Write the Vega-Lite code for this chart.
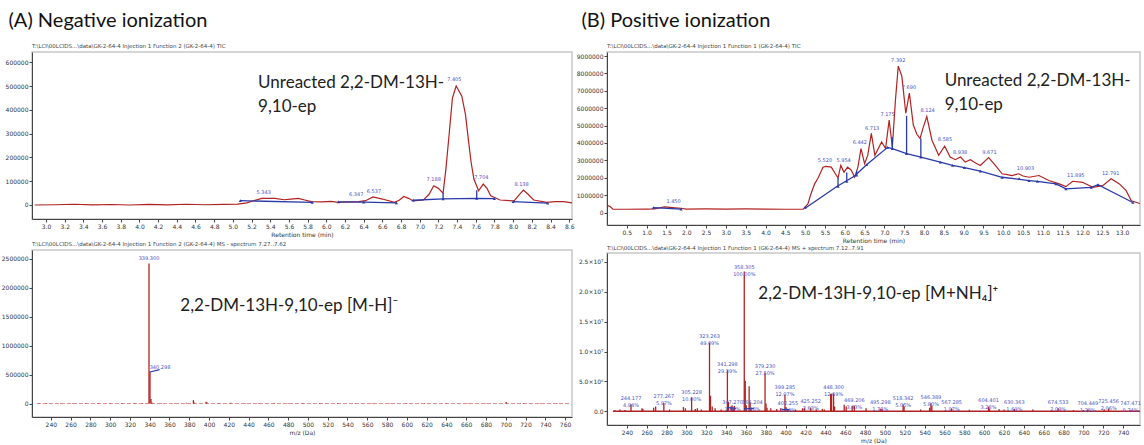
{
 "$schema": "https://vega.github.io/schema/vega-lite/v6.json",
 "background": "white",
 "padding": {"left": 0, "top": 10, "right": 0, "bottom": 0},
 "config": {
  "view": {"stroke": "#c8c8c8", "strokeWidth": 1.5},
  "axis": {"labelFont": "DejaVu Sans", "labelFontSize": 6, "labelColor": "#333", "titleFont": "DejaVu Sans", "titleFontSize": 6, "titleFontWeight": "normal", "titleColor": "#333", "domainColor": "#444", "tickColor": "#444", "tickSize": 3, "grid": false, "labelPadding": 1, "titlePadding": 2, "labelOverlap": false, "labelFlush": false},
  "text": {"font": "DejaVu Sans"}
 },
 "datasets": {
  "tl_curve": [
   {"x":2.88,"y":0},{"x":3.1,"y":1000},{"x":3.3,"y":3000},{"x":3.5,"y":500},{"x":3.7,"y":2000},{"x":3.9,"y":0},{"x":4.1,"y":2500},{"x":4.3,"y":500},{"x":4.5,"y":3000},{"x":4.7,"y":1000},{"x":4.9,"y":2500},{"x":5.05,"y":4000},{"x":5.15,"y":9000},{"x":5.22,"y":18000},{"x":5.31,"y":28000},{"x":5.45,"y":28000},{"x":5.55,"y":22000},{"x":5.62,"y":25000},{"x":5.7,"y":28000},{"x":5.78,"y":20000},{"x":5.84,"y":14000},{"x":5.95,"y":13000},{"x":6.05,"y":15000},{"x":6.13,"y":11000},{"x":6.25,"y":13000},{"x":6.35,"y":14000},{"x":6.42,"y":18000},{"x":6.5,"y":34000},{"x":6.6,"y":25000},{"x":6.73,"y":11000},{"x":6.78,"y":20000},{"x":6.83,"y":36000},{"x":6.88,"y":28000},{"x":6.93,"y":17000},{"x":7.04,"y":21000},{"x":7.1,"y":45000},{"x":7.15,"y":81000},{"x":7.2,"y":70000},{"x":7.25,"y":50000},{"x":7.28,"y":150000},{"x":7.31,"y":277000},{"x":7.35,"y":450000},{"x":7.39,"y":501000},{"x":7.45,"y":459000},{"x":7.49,"y":380000},{"x":7.52,"y":277000},{"x":7.55,"y":180000},{"x":7.58,"y":109000},{"x":7.63,"y":60000},{"x":7.68,"y":88000},{"x":7.72,"y":70000},{"x":7.76,"y":39000},{"x":7.86,"y":21000},{"x":8.01,"y":17000},{"x":8.06,"y":40000},{"x":8.11,"y":63000},{"x":8.16,"y":45000},{"x":8.22,"y":21000},{"x":8.36,"y":11000},{"x":8.45,"y":14000},{"x":8.54,"y":14000},{"x":8.65,"y":8000}
  ],
  "tl_base": [
   {"seg":1,"x":5.08,"y":18000},{"seg":1,"x":5.85,"y":11000},
   {"seg":2,"x":6.13,"y":13000},{"seg":2,"x":6.4,"y":12000},{"seg":2,"x":6.75,"y":9000},
   {"seg":3,"x":6.93,"y":20000},{"seg":3,"x":7.25,"y":26000},{"seg":3,"x":7.61,"y":28000},{"seg":3,"x":7.8,"y":27000},
   {"seg":4,"x":8.0,"y":14000},{"seg":4,"x":8.37,"y":8000}
  ],
  "tl_drop": [
   {"x":7.25,"y":26000,"y2":50000},{"x":7.61,"y":28000,"y2":62000}
  ],
  "tl_peaks": [
   {"x":5.33,"y":56000,"label":"5.343"},{"x":6.32,"y":46000,"label":"6.347"},{"x":6.51,"y":60000,"label":"6.537"},{"x":7.15,"y":109000,"label":"7.188"},{"x":7.37,"y":532000,"label":"7.405"},{"x":7.66,"y":116000,"label":"7.704"},{"x":8.09,"y":88000,"label":"8.138"}
  ],
  "tl_note": [
   {"x":5.27,"y":548000,"label":"Unreacted 2,2-DM-13H-\n9,10-ep"}
  ],
  "tr_curve": [
   {"x":0.02,"y":400000},{"x":0.08,"y":350000},{"x":0.15,"y":200000},{"x":0.5,"y":190000},{"x":1.0,"y":200000},{"x":1.2,"y":210000},{"x":1.45,"y":330000},{"x":1.65,"y":290000},{"x":1.87,"y":250000},{"x":2.0,"y":200000},{"x":2.5,"y":210000},{"x":3.0,"y":200000},{"x":3.5,"y":210000},{"x":4.0,"y":200000},{"x":4.5,"y":190000},{"x":4.95,"y":200000},{"x":5.07,"y":500000},{"x":5.15,"y":1100000},{"x":5.24,"y":1650000},{"x":5.33,"y":2000000},{"x":5.45,"y":2610000},{"x":5.52,"y":2650000},{"x":5.66,"y":2610000},{"x":5.79,"y":2130000},{"x":5.83,"y":2000000},{"x":5.9,"y":2710000},{"x":5.98,"y":2320000},{"x":6.07,"y":2610000},{"x":6.16,"y":2450000},{"x":6.25,"y":2030000},{"x":6.33,"y":2600000},{"x":6.41,"y":3680000},{"x":6.5,"y":2810000},{"x":6.58,"y":3300000},{"x":6.67,"y":4550000},{"x":6.76,"y":3290000},{"x":6.85,"y":3700000},{"x":6.93,"y":4060000},{"x":7.03,"y":3680000},{"x":7.12,"y":5320000},{"x":7.2,"y":3770000},{"x":7.28,"y":6500000},{"x":7.35,"y":8420000},{"x":7.44,"y":7840000},{"x":7.54,"y":5710000},{"x":7.63,"y":6870000},{"x":7.73,"y":5030000},{"x":7.82,"y":4500000},{"x":7.9,"y":4260000},{"x":7.98,"y":4900000},{"x":8.07,"y":5520000},{"x":8.2,"y":4160000},{"x":8.37,"y":3290000},{"x":8.52,"y":3810000},{"x":8.66,"y":3190000},{"x":8.79,"y":3040000},{"x":8.92,"y":3190000},{"x":9.04,"y":2900000},{"x":9.17,"y":3040000},{"x":9.3,"y":2850000},{"x":9.42,"y":2710000},{"x":9.63,"y":3160000},{"x":9.8,"y":2710000},{"x":9.97,"y":2230000},{"x":10.1,"y":2180000},{"x":10.22,"y":2130000},{"x":10.39,"y":2230000},{"x":10.5,"y":2100000},{"x":10.65,"y":2030000},{"x":10.9,"y":2130000},{"x":11.15,"y":1840000},{"x":11.41,"y":1650000},{"x":11.58,"y":1490000},{"x":11.75,"y":1800000},{"x":12.0,"y":1740000},{"x":12.26,"y":1450000},{"x":12.51,"y":1550000},{"x":12.72,"y":1940000},{"x":12.93,"y":1650000},{"x":13.1,"y":1260000},{"x":13.23,"y":680000},{"x":13.45,"y":520000}
  ],
  "tr_base": [
   {"seg":1,"x":1.17,"y":290000},{"seg":1,"x":1.87,"y":200000},
   {"seg":2,"x":5.0,"y":250000},{"seg":2,"x":5.8,"y":1500000},{"seg":2,"x":6.25,"y":2100000},{"seg":2,"x":6.55,"y":2750000},{"seg":2,"x":7.08,"y":3750000},{"seg":2,"x":7.2,"y":3680000},{"seg":2,"x":7.56,"y":3390000},{"seg":2,"x":7.92,"y":3190000},{"seg":2,"x":8.41,"y":2900000},{"seg":2,"x":8.72,"y":2710000},{"seg":2,"x":9.02,"y":2580000},{"seg":2,"x":9.42,"y":2380000},{"seg":2,"x":9.97,"y":2030000},{"seg":2,"x":10.65,"y":1840000},{"seg":2,"x":10.86,"y":1790000},{"seg":2,"x":11.33,"y":1650000},{"seg":2,"x":11.58,"y":1360000},{"seg":2,"x":12.22,"y":1450000},{"seg":2,"x":12.39,"y":1600000},{"seg":2,"x":13.27,"y":580000}
  ],
  "tr_drop": [
   {"x":7.2,"y":3680000,"y2":4350000},{"x":7.56,"y":3390000,"y2":5560000},{"x":7.92,"y":3190000,"y2":4260000},{"x":5.83,"y":1500000,"y2":2000000},{"x":6.05,"y":1800000,"y2":2300000},{"x":6.3,"y":2150000,"y2":2400000}
  ],
  "tr_marks": [
   {"x":1.17,"y":290000},{"x":1.87,"y":200000},{"x":5.0,"y":300000},{"x":5.83,"y":1500000},{"x":6.05,"y":1800000},{"x":6.3,"y":2150000},{"x":6.55,"y":2750000},{"x":7.08,"y":3750000},{"x":7.2,"y":3680000},{"x":7.56,"y":3390000},{"x":7.92,"y":3190000},{"x":8.41,"y":2900000},{"x":8.72,"y":2710000},{"x":9.02,"y":2580000},{"x":9.42,"y":2380000},{"x":9.97,"y":2030000},{"x":10.4,"y":1950000},{"x":10.65,"y":1840000},{"x":10.86,"y":1790000},{"x":11.33,"y":1650000},{"x":11.58,"y":1360000},{"x":12.22,"y":1450000},{"x":12.39,"y":1600000},{"x":13.27,"y":580000}
  ],
  "tr_peaks": [
   {"x":1.68,"y":680000,"label":"1.450"},{"x":5.5,"y":3040000,"label":"5.520"},{"x":5.97,"y":3040000,"label":"5.954"},{"x":6.38,"y":4060000,"label":"6.442"},{"x":6.69,"y":4840000,"label":"6.713"},{"x":7.08,"y":5670000,"label":"7.175"},{"x":7.35,"y":8770000,"label":"7.392"},{"x":7.62,"y":7220000,"label":"7.690"},{"x":8.09,"y":5900000,"label":"8.124"},{"x":8.53,"y":4240000,"label":"8.585"},{"x":8.91,"y":3480000,"label":"8.938"},{"x":9.65,"y":3480000,"label":"9.671"},{"x":10.56,"y":2580000,"label":"10.903"},{"x":11.83,"y":2170000,"label":"11.895"},{"x":12.71,"y":2270000,"label":"12.791"}
  ],
  "tr_note": [
   {"x":8.52,"y":8050000,"label":"Unreacted 2,2-DM-13H-\n9,10-ep"}
  ],
  "bl_sticks": [
   {"x":228,"y":8000},{"x":236,"y":10000},{"x":250,"y":9000},{"x":262,"y":8000},{"x":275,"y":10000},{"x":288,"y":9000},{"x":300,"y":8000},{"x":312,"y":11000},{"x":325,"y":9000},{"x":333,"y":10000},{"x":339.3,"y":2420000},{"x":340.3,"y":550000},{"x":341.3,"y":80000},{"x":342.3,"y":20000},{"x":352,"y":10000},{"x":365,"y":9000},{"x":377,"y":15000},{"x":384.2,"y":60000},{"x":385.2,"y":15000},{"x":397,"y":30000},{"x":398,"y":20000},{"x":410,"y":10000},{"x":422,"y":12000},{"x":437,"y":9000},{"x":450,"y":10000},{"x":466,"y":8000},{"x":480,"y":9000},{"x":495,"y":8000},{"x":512,"y":10000},{"x":530,"y":9000},{"x":548,"y":8000},{"x":565,"y":10000},{"x":583,"y":8000},{"x":600,"y":9000},{"x":618,"y":8000},{"x":640,"y":9000},{"x":662,"y":8000},{"x":680,"y":10000},{"x":700.5,"y":28000},{"x":718,"y":10000},{"x":735,"y":8000},{"x":752,"y":9000}
  ],
  "bl_zero": [
   {"x":226,"y":0},{"x":765,"y":0}
  ],
  "bl_labels": [
   {"x":339.3,"y":2520000,"label":"339.300"}
  ],
  "bl_labels2": [
   {"x":340.0,"y":640000,"label":"340.298"}
  ],
  "bl_blue": [
   {"seg":1,"x":340.3,"y":545000},{"seg":1,"x":350,"y":585000}
  ],
  "bl_note": [
   {"x":371,"y":1683000,"label":"2,2-DM-13H-9,10-ep [M-H]⁻"}
  ],
  "br_sticks": [
   {"x":228,"y":200000},{"x":233,"y":300000},{"x":238,"y":200000},{"x":244.177,"y":1156000},{"x":255.2,"y":500000},{"x":256.2,"y":400000},{"x":267,"y":600000},{"x":269,"y":800000},{"x":277.267,"y":1397000},{"x":283,"y":300000},{"x":297,"y":700000},{"x":299,"y":500000},{"x":305.228,"y":2340000},{"x":309,"y":400000},{"x":311,"y":500000},{"x":315,"y":300000},{"x":323.263,"y":11490000},{"x":324.27,"y":2600000},{"x":326,"y":800000},{"x":329,"y":500000},{"x":335,"y":300000},{"x":341.298,"y":6880000},{"x":342.3,"y":1600000},{"x":345,"y":800000},{"x":346,"y":1000000},{"x":347.27,"y":374000},{"x":348.3,"y":900000},{"x":358.305,"y":23400000},{"x":359.3,"y":5100000},{"x":360.3,"y":1000000},{"x":363.2,"y":4200000},{"x":364.2,"y":1500000},{"x":365.204,"y":323000},{"x":379.23,"y":6435000},{"x":380.2,"y":1300000},{"x":381.2,"y":600000},{"x":385,"y":500000},{"x":391,"y":400000},{"x":395,"y":500000},{"x":399.285,"y":2824000},{"x":400.3,"y":700000},{"x":402.255,"y":220000},{"x":410,"y":300000},{"x":417,"y":500000},{"x":419,"y":600000},{"x":425.252,"y":615000},{"x":431,"y":300000},{"x":437,"y":400000},{"x":439,"y":300000},{"x":445.3,"y":2900000},{"x":446.3,"y":2950000},{"x":448.3,"y":2970000},{"x":449.3,"y":800000},{"x":459,"y":1100000},{"x":461,"y":800000},{"x":467,"y":900000},{"x":469.206,"y":920000},{"x":481,"y":500000},{"x":495.298,"y":417000},{"x":497,"y":400000},{"x":518.342,"y":1180000},{"x":519.3,"y":800000},{"x":536,"y":300000},{"x":545,"y":600000},{"x":546.389,"y":1357000},{"x":547.3,"y":900000},{"x":567.285,"y":461000},{"x":585,"y":250000},{"x":604.401,"y":768000},{"x":605.4,"y":400000},{"x":615,"y":400000},{"x":620,"y":300000},{"x":630.363,"y":395000},{"x":649,"y":300000},{"x":674.533,"y":489000},{"x":690,"y":200000},{"x":700,"y":200000},{"x":704.449,"y":300000},{"x":721,"y":300000},{"x":725.456,"y":482000},{"x":747.471,"y":173000}
  ],
  "br_zero": [
   {"x":226,"y":0},{"x":757,"y":0}
  ],
  "br_labels": [
   {"x":244.177,"y":1700000,"label":"244.177\n4.94%"},{"x":277.267,"y":1970000,"label":"277.267\n5.97%"},{"x":305.228,"y":2790000,"label":"305.228\n10.00%"},{"x":323.263,"y":12030000,"label":"323.263\n49.09%"},{"x":341.298,"y":7440000,"label":"341.298\n29.39%"},{"x":346.5,"y":980000,"label":"347.270\n1.60%"},{"x":358.305,"y":23700000,"label":"358.305\n100.00%"},{"x":366.5,"y":980000,"label":"365.204\n1.38%"},{"x":379.23,"y":7000000,"label":"379.230\n27.50%"},{"x":399.285,"y":3560000,"label":"399.285\n12.07%"},{"x":402.255,"y":880000,"label":"402.255\n0.94%"},{"x":425.252,"y":1150000,"label":"425.252\n2.63%"},{"x":448.3,"y":3600000,"label":"448.300\n12.69%"},{"x":469.206,"y":1430000,"label":"469.206\n3.93%"},{"x":495.298,"y":980000,"label":"495.298\n1.78%"},{"x":518.342,"y":1750000,"label":"518.342\n5.05%"},{"x":546.389,"y":1870000,"label":"546.389\n5.80%"},{"x":567.285,"y":980000,"label":"567.285\n1.97%"},{"x":604.401,"y":1310000,"label":"604.401\n3.28%"},{"x":630.363,"y":980000,"label":"630.363\n1.69%"},{"x":674.533,"y":980000,"label":"674.533\n2.09%"},{"x":704.449,"y":880000,"label":"704.449\n1.28%"},{"x":725.456,"y":1150000,"label":"725.456\n2.06%"},{"x":747.471,"y":880000,"label":"747.471\n0.74%"}
  ],
  "br_blue": [
   {"seg":1,"x":342,"y":600000},{"seg":1,"x":350,"y":500000},{"seg":2,"x":358,"y":400000},{"seg":2,"x":368,"y":500000},{"seg":3,"x":396,"y":300000},{"seg":3,"x":404,"y":300000}
  ],
  "br_note": [
   {"x":372.5,"y":19600000,"label":"2,2-DM-13H-9,10-ep [M+NH₄]⁺"}
  ]
 },
 "spacing": 0,
 "hconcat": [
  {
   "title": {"text": "(A) Negative ionization", "anchor": "start", "frame": "bounds", "font": "Lato", "fontSize": 20, "fontWeight": "normal", "color": "#111", "offset": 12, "dx": 8},
   "spacing": 2,
   "vconcat": [
    {
     "width": 540, "height": 167,
     "title": {"text": "T:\\LCI\\00LCIDS...\\data\\GK-2-64-4 Injection 1 Function 2 (GK-2-64-4) TIC", "anchor": "start", "frame": "group", "font": "DejaVu Sans", "fontSize": 5.5, "fontWeight": "normal", "color": "#444", "offset": 3},
     "encoding": {
      "x": {"field": "x", "type": "quantitative", "scale": {"domain": [2.85, 8.63], "nice": false, "zero": false}, "axis": {"values": [3.0,3.2,3.4,3.6,3.8,4.0,4.2,4.4,4.6,4.8,5.0,5.2,5.4,5.6,5.8,6.0,6.2,6.4,6.6,6.8,7.0,7.2,7.4,7.6,7.8,8.0,8.2,8.4,8.6], "format": ".1f", "title": "Retention time (min)", "labelOverlap": false}},
      "y": {"field": "y", "type": "quantitative", "scale": {"domain": [-59000, 644000], "nice": false, "zero": false}, "axis": {"values": [0,100000,200000,300000,400000,500000,600000], "format": "d", "title": null, "labelOverlap": false}}
     },
     "layer": [
      {"data": {"name": "tl_curve"}, "mark": {"type": "line", "color": "#b22222", "strokeWidth": 1.2, "clip": true}},
      {"data": {"name": "tl_base"}, "mark": {"type": "line", "color": "#2a3aa8", "strokeWidth": 1.3, "clip": true}, "encoding": {"detail": {"field": "seg"}}},
      {"data": {"name": "tl_drop"}, "mark": {"type": "rule", "color": "#2a3aa8", "strokeWidth": 1.3}, "encoding": {"y2": {"field": "y2"}}},
      {"data": {"name": "tl_base"}, "mark": {"type": "point", "shape": "triangle-up", "filled": true, "color": "#2a3aa8", "size": 10, "opacity": 1}},
      {"data": {"name": "tl_peaks"}, "mark": {"type": "text", "color": "#4a52c4", "fontSize": 5, "baseline": "middle"}, "encoding": {"text": {"field": "label"}}},
      {"data": {"name": "tl_note"}, "mark": {"type": "text", "font": "Lato", "fontSize": 17, "align": "left", "baseline": "top", "lineHeight": 24, "lineBreak": "\n", "color": "#222"}, "encoding": {"text": {"field": "label"}}}
     ]
    },
    {
     "width": 540, "height": 167,
     "title": {"text": "T:\\LCI\\00LCIDS...\\data\\GK-2-64-4 Injection 1 Function 2 (GK-2-64-4) MS - spectrum 7.27..7.62", "anchor": "start", "frame": "group", "font": "DejaVu Sans", "fontSize": 5.5, "fontWeight": "normal", "color": "#444", "offset": 3},
     "encoding": {
      "x": {"field": "x", "type": "quantitative", "scale": {"domain": [221, 767], "nice": false, "zero": false}, "axis": {"values": [240,260,280,300,320,340,360,380,400,420,440,460,480,500,520,540,560,580,600,620,640,660,680,700,720,740,760], "format": "d", "title": "m/z (Da)", "labelOverlap": false}},
      "y": {"field": "y", "type": "quantitative", "scale": {"domain": [-232000, 2652000], "nice": false, "zero": false}, "axis": {"values": [0,500000,1000000,1500000,2000000,2500000], "format": "d", "title": null, "labelOverlap": false}}
     },
     "layer": [
      {"data": {"name": "bl_zero"}, "mark": {"type": "line", "color": "#c04040", "strokeWidth": 1, "strokeDash": [4, 2], "opacity": 0.6}},
      {"data": {"name": "bl_sticks"}, "mark": {"type": "rule", "color": "#b22222", "strokeWidth": 1.3}, "encoding": {"y2": {"datum": 0}}},
      {"data": {"name": "bl_blue"}, "mark": {"type": "line", "color": "#2a3aa8", "strokeWidth": 1.2}, "encoding": {"detail": {"field": "seg"}}},
      {"data": {"name": "bl_labels"}, "mark": {"type": "text", "color": "#4a52c4", "fontSize": 5, "baseline": "middle", "align": "center"}, "encoding": {"text": {"field": "label"}}},
      {"data": {"name": "bl_labels2"}, "mark": {"type": "text", "color": "#4a52c4", "fontSize": 5, "baseline": "middle", "align": "left"}, "encoding": {"text": {"field": "label"}}},
      {"data": {"name": "bl_note"}, "mark": {"type": "text", "font": "Lato", "fontSize": 17, "align": "left", "baseline": "middle", "color": "#222"}, "encoding": {"text": {"field": "label"}}}
     ]
    }
   ]
  },
  {
   "title": {"text": "(B) Positive ionization", "anchor": "start", "frame": "bounds", "font": "Lato", "fontSize": 20, "fontWeight": "normal", "color": "#111", "offset": 12, "dx": 6},
   "spacing": 0,
   "vconcat": [
    {
     "width": 533, "height": 173,
     "title": {"text": "T:\\LCI\\00LCIDS...\\data\\GK-2-64-4 Injection 1 Function 1 (GK-2-64-4) TIC", "anchor": "start", "frame": "group", "font": "DejaVu Sans", "fontSize": 5.5, "fontWeight": "normal", "color": "#444", "offset": 3},
     "encoding": {
      "x": {"field": "x", "type": "quantitative", "scale": {"domain": [0, 13.45], "nice": false, "zero": false}, "axis": {"values": [0.5,1.0,1.5,2.0,2.5,3.0,3.5,4.0,4.5,5.0,5.5,6.0,6.5,7.0,7.5,8.0,8.5,9.0,9.5,10.0,10.5,11.0,11.5,12.0,12.5,13.0], "format": ".1f", "title": "Retention time (min)", "labelOverlap": false}},
      "y": {"field": "y", "type": "quantitative", "scale": {"domain": [-714000, 9230000], "nice": false, "zero": false}, "axis": {"values": [0,1000000,2000000,3000000,4000000,5000000,6000000,7000000,8000000,9000000], "format": "d", "title": null, "labelOverlap": false}}
     },
     "layer": [
      {"data": {"name": "tr_curve"}, "mark": {"type": "line", "color": "#b22222", "strokeWidth": 1.2, "clip": true}},
      {"data": {"name": "tr_base"}, "mark": {"type": "line", "color": "#2a3aa8", "strokeWidth": 1.3, "clip": true}, "encoding": {"detail": {"field": "seg"}}},
      {"data": {"name": "tr_drop"}, "mark": {"type": "rule", "color": "#2a3aa8", "strokeWidth": 1.3}, "encoding": {"y2": {"field": "y2"}}},
      {"data": {"name": "tr_marks"}, "mark": {"type": "point", "shape": "triangle-up", "filled": true, "color": "#2a3aa8", "size": 10, "opacity": 1}},
      {"data": {"name": "tr_peaks"}, "mark": {"type": "text", "color": "#4a52c4", "fontSize": 5, "baseline": "middle"}, "encoding": {"text": {"field": "label"}}},
      {"data": {"name": "tr_note"}, "mark": {"type": "text", "font": "Lato", "fontSize": 17, "align": "left", "baseline": "top", "lineHeight": 24, "lineBreak": "\n", "color": "#222"}, "encoding": {"text": {"field": "label"}}}
     ]
    },
    {
     "width": 533, "height": 172,
     "title": {"text": "T:\\LCI\\00LCIDS...\\data\\GK-2-64-4 Injection 1 Function 1 (GK-2-64-4) MS + spectrum 7.12..7.91", "anchor": "start", "frame": "group", "font": "DejaVu Sans", "fontSize": 5.5, "fontWeight": "normal", "color": "#444", "offset": 2},
     "encoding": {
      "x": {"field": "x", "type": "quantitative", "scale": {"domain": [220, 757], "nice": false, "zero": false}, "axis": {"values": [240,260,280,300,320,340,360,380,400,420,440,460,480,500,520,540,560,580,600,620,640,660,680,700,720,740], "format": "d", "title": "m/z (Da)", "labelOverlap": false}},
      "y": {"field": "y", "type": "quantitative", "scale": {"domain": [-2300000, 26500000], "nice": false, "zero": false}, "axis": {"values": [0,5000000,10000000,15000000,20000000,25000000], "title": null, "labelOverlap": false, "labelExpr": "datum.value == 0 ? '0.0' : (datum.value < 10000000 ? format(datum.value / 1000000, '.1f') + '×10⁶' : format(datum.value / 10000000, '.1f') + '×10⁷')"}}
     },
     "layer": [
      {"data": {"name": "br_zero"}, "mark": {"type": "line", "color": "#b22222", "strokeWidth": 1.3}},
      {"data": {"name": "br_sticks"}, "mark": {"type": "rule", "color": "#b22222", "strokeWidth": 1.3}, "encoding": {"y2": {"datum": 0}}},
      {"data": {"name": "br_blue"}, "mark": {"type": "line", "color": "#2a3aa8", "strokeWidth": 1.2}, "encoding": {"detail": {"field": "seg"}}},
      {"data": {"name": "br_labels"}, "mark": {"type": "text", "color": "#4a52c4", "fontSize": 5, "baseline": "bottom", "align": "center", "lineBreak": "\n", "lineHeight": 7}, "encoding": {"text": {"field": "label"}}},
      {"data": {"name": "br_note"}, "mark": {"type": "text", "font": "Lato", "fontSize": 17, "align": "left", "baseline": "middle", "color": "#222"}, "encoding": {"text": {"field": "label"}}}
     ]
    }
   ]
  }
 ]
}
